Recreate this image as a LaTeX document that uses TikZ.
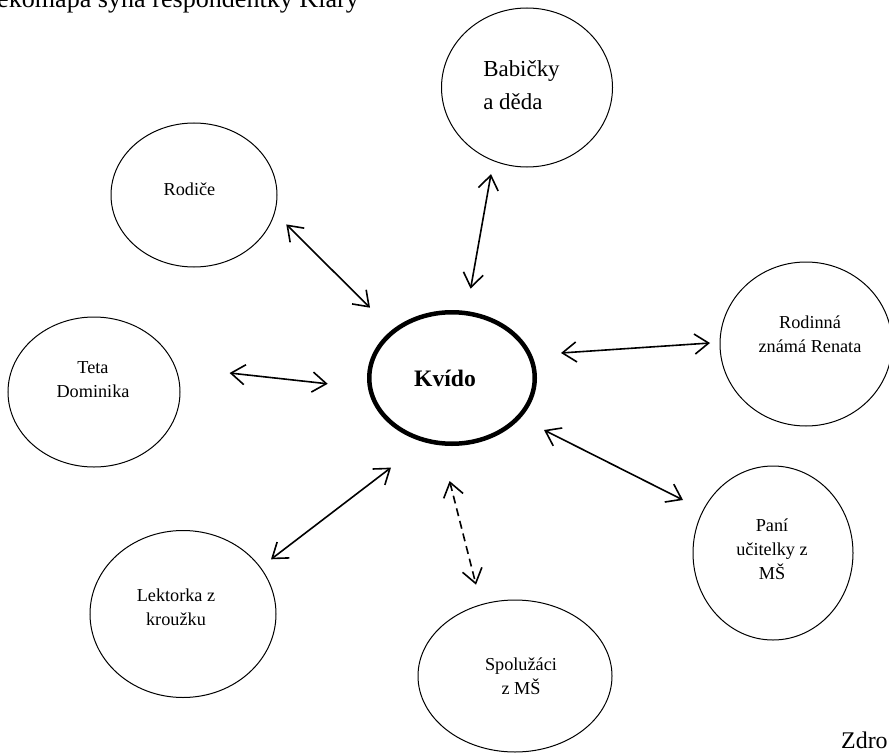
\documentclass[tikz,border=0pt]{standalone}
\usepackage{fontspec}
\setmainfont{Liberation Serif}
\usetikzlibrary{arrows.meta,shapes.geometric}

\begin{document}
\begin{tikzpicture}[x=1bp,y=-1bp,
  osoba/.style={draw,ellipse,line width=1bp,inner sep=0pt},
  jmeno/.style={align=center,font=\fontsize{18.3}{24.5}\selectfont},
  vazba/.style={line width=1.6bp,
    {Straight Barb[length=14bp,width=20bp]}-{Straight Barb[length=14bp,width=20bp]}},
  slaba/.style={vazba,dash pattern=on 8bp off 5bp}]
\useasboundingbox (0,0) rectangle (889,753);

\node[anchor=base west,inner sep=0pt,font=\fontsize{26.2}{30}\selectfont] (titulek)
  at (-3,7.5) {ekomapa syna respondentky Klary};
\node[anchor=base west,inner sep=0pt,font=\fontsize{24}{28}\selectfont] (zdroj)
  at (841,748) {Zdro};

% stred
\node[osoba,line width=4.5bp,minimum width=165.5bp,minimum height=131.5bp,
  label={[xshift=-7bp,font=\bfseries\fontsize{23.7}{28}\selectfont]center:Kvído}]
  (kvido) at (452,378) {};

% okoli
\node[osoba,minimum width=171bp,minimum height=159bp,
  label={[align=left,xshift=-5.5bp,yshift=2.4bp,font=\fontsize{23}{33}\selectfont]center:Babičky\\a děda}]
  (babicky) at (527,87.5) {};
\node[osoba,minimum width=166bp,minimum height=144bp,
  label={[jmeno,xshift=-4.5bp,yshift=6bp]center:Rodiče}]
  (rodice) at (194,195) {};
\node[osoba,minimum width=172bp,minimum height=150bp,
  label={[jmeno,xshift=-1bp,yshift=12.5bp]center:Teta\\Dominika}]
  (teta) at (94,392) {};
\node[osoba,minimum width=172bp,minimum height=164bp,
  label={[jmeno,xshift=4bp,yshift=9.7bp]center:Rodinná\\známá Renata}]
  (renata) at (806,344) {};
\node[osoba,minimum width=160bp,minimum height=174bp,
  label={[jmeno,xshift=-1bp,yshift=3.7bp]center:Paní\\učitelky z\\MŠ}]
  (pani) at (773,553) {};
\node[osoba,minimum width=194bp,minimum height=152bp,
  label={[jmeno,xshift=6bp]center:Spolužáci\\z MŠ}]
  (spoluzaci) at (515,676) {};
\node[osoba,minimum width=186bp,minimum height=167bp,
  label={[jmeno,xshift=-7bp,yshift=6.5bp]center:Lektorka z\\kroužku}]
  (lektorka) at (183,614) {};

% vazby
\draw[vazba] ([shift={(18.6,-89.3)}]kvido.center) -- ([shift={(-36,86.6)}]babicky.center);
\draw[vazba] ([shift={(-82,-70.3)}]kvido.center) -- ([shift={(92.3,29.4)}]rodice.center);
\draw[vazba] ([shift={(-124.3,5.8)}]kvido.center) -- ([shift={(135.6,-19)}]teta.center);
\draw[vazba] ([shift={(109,-25)}]kvido.center) -- ([shift={(-96,-1)}]renata.center);
\draw[vazba] ([shift={(92,52)}]kvido.center) -- ([shift={(-90,-53)}]pani.center);
\draw[vazba] ([shift={(-61,89.6)}]kvido.center) -- ([shift={(88,-54.7)}]lektorka.center);
\draw[slaba] ([shift={(-2.4,103)}]kvido.center) -- ([shift={(-39,-91.3)}]spoluzaci.center);
\end{tikzpicture}
\end{document}
